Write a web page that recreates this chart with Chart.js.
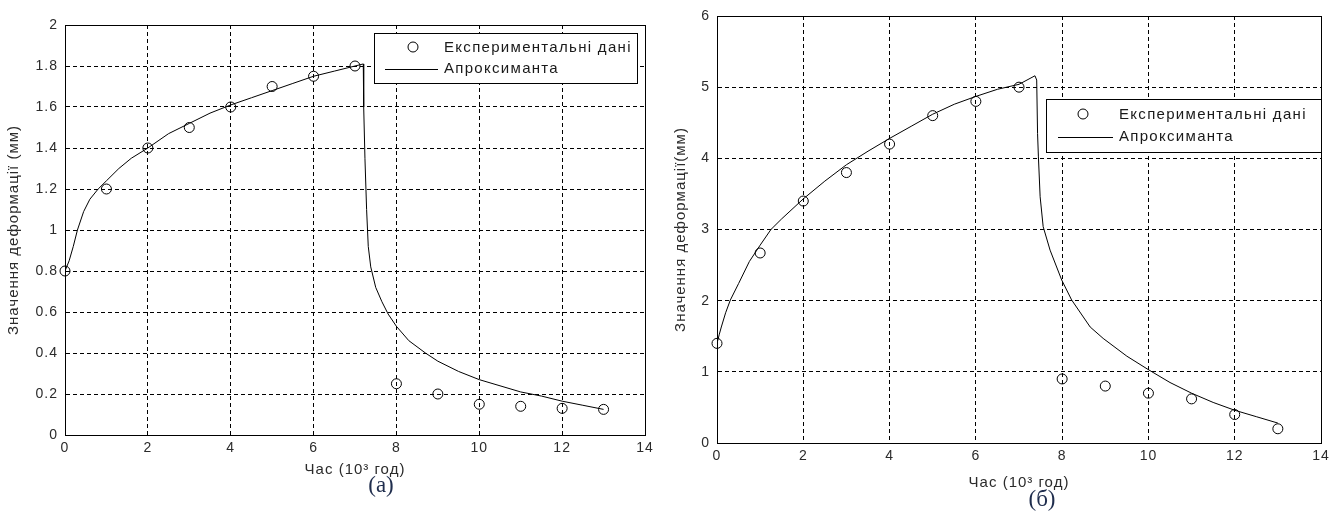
<!DOCTYPE html>
<html>
<head>
<meta charset="utf-8">
<script src="https://cdn.jsdelivr.net/npm/chart.js@4"></script>
<style>
  body { margin: 0; background: #fff; width: 1344px; height: 513px; position: relative; overflow: hidden; }
  .panel { position: absolute; top: 0; width: 672px; height: 513px; }
  .caption { position: absolute; font-family: "Liberation Serif", "Times New Roman", serif; font-size: 23px; color: #1f2d4d; transform: translate(-50%, -50%); }
</style>
</head>
<body>
<div class="panel" style="left:0"><canvas id="graphA"></canvas></div>
<div class="panel" style="left:672px"><canvas id="graphB"></canvas></div>
<div class="caption" style="left:381px; top:485px">(а)</div>
<div class="caption" style="left:1042px; top:499px">(б)</div>
<script>
// time, 10^3 h
const hours = [0, 1, 2, 3, 4, 5, 6, 7, 8, 9, 10, 11, 12, 13];
const xTicks = [0, 2, 4, 6, 8, 10, 12, 14];

// (а) measured deformation, mm
const measuredA = [0.8, 1.2, 1.4, 1.5, 1.6, 1.7, 1.75, 1.8, 0.25, 0.2, 0.15, 0.14, 0.13, 0.125];
// (а) fitted curve
const fitTimeA = [0, 0.1, 0.2, 0.3, 0.45, 0.6, 0.8, 1, 1.3, 1.6, 2, 2.5, 3, 3.5, 4, 4.5, 5, 5.5, 6, 6.5, 7, 7.2,
  7.21, 7.24, 7.28, 7.32, 7.38, 7.5, 7.65, 7.8, 8, 8.3, 8.7, 9, 9.5, 10, 10.5, 11, 11.5, 12, 12.5, 13];
const fitValueA = [0.8, 0.85, 0.92, 1.0, 1.09, 1.15, 1.2, 1.24, 1.3, 1.35, 1.4, 1.47, 1.52, 1.57, 1.61, 1.645, 1.68, 1.715, 1.75, 1.775, 1.8, 1.81,
  1.6, 1.35, 1.1, 0.92, 0.82, 0.72, 0.65, 0.59, 0.53, 0.46, 0.4, 0.36, 0.31, 0.27, 0.24, 0.21, 0.19, 0.165, 0.145, 0.125];
const yTicksA = [0, 0.2, 0.4, 0.6, 0.8, 1, 1.2, 1.4, 1.6, 1.8, 2];

// (б) measured deformation, mm
const measuredB = [1.4, 2.67, 3.4, 3.8, 4.2, 4.6, 4.8, 5.0, 0.9, 0.8, 0.7, 0.62, 0.4, 0.2];
// (б) fitted curve
const fitTimeB = [0, 0.05, 0.1, 0.2, 0.31, 0.5, 0.75, 1, 1.25, 1.5, 2, 2.5, 3, 3.5, 4, 4.5, 5, 5.5, 6, 6.5, 7, 7.37,
  7.41, 7.43, 7.45, 7.49, 7.56, 7.72, 7.99, 8.22, 8.65, 8.95, 9.5, 10, 10.5, 11, 11.5, 12, 12.5, 13];
const fitValueB = [1.4, 1.52, 1.63, 1.83, 2.01, 2.24, 2.55, 2.78, 3.0, 3.15, 3.43, 3.68, 3.91, 4.1, 4.28, 4.45, 4.62, 4.76, 4.87, 4.97, 5.04, 5.16,
  5.1, 4.35, 4.02, 3.46, 3.04, 2.71, 2.29, 2.01, 1.63, 1.47, 1.22, 1.03, 0.85, 0.7, 0.57, 0.46, 0.37, 0.28];
const yTicksB = [0, 1, 2, 3, 4, 5, 6];

const seriesNames = ['Експериментальні дані', 'Апроксиманта'];

Chart.defaults.font.family = '"Liberation Sans", Arial, sans-serif';
Chart.defaults.color = '#2b2b2b';

const toPoints = (xs, ys) => xs.map((x, i) => ({x: x, y: ys[i]}));

// spaced-out text like the original plot export
const spacing = {
  id: 'spacing',
  beforeDraw(chart) { chart.ctx.letterSpacing = '1px'; }
};

// closed box round the plot area
const frame = {
  id: 'frame',
  afterDatasetsDraw(chart) {
    const {ctx, chartArea: a} = chart;
    ctx.save();
    ctx.strokeStyle = '#000';
    ctx.lineWidth = 1;
    ctx.strokeRect(Math.round(a.left) + 0.5, Math.round(a.top) + 0.5, Math.round(a.right - a.left), Math.round(a.bottom - a.top));
    ctx.restore();
  }
};

// legend box inside the plot area
const boxLegend = {
  id: 'boxLegend',
  afterDatasetsDraw(chart, args, opts) {
    const {ctx, chartArea: a} = chart;
    const left = Math.round(a.right - opts.right - opts.width);
    const top = Math.round(a.top + opts.top);
    ctx.save();
    ctx.fillStyle = '#fff';
    ctx.fillRect(left, top, opts.width, opts.height);
    ctx.strokeStyle = '#000';
    ctx.lineWidth = 1;
    ctx.strokeRect(left + 0.5, top + 0.5, opts.width, opts.height);
    ctx.font = '15px "Liberation Sans", Arial, sans-serif';
    ctx.letterSpacing = '1.3px';
    ctx.textBaseline = 'middle';
    chart.data.datasets.forEach((ds, i) => {
      const y = top + opts.rows[i];
      ctx.beginPath();
      if (ds.showLine) {
        ctx.moveTo(left + opts.lineFrom, y + 0.5);
        ctx.lineTo(left + opts.lineTo, y + 0.5);
      } else {
        ctx.arc(left + opts.marker, y - 1, ds.pointRadius, 0, Math.PI * 2);
      }
      ctx.stroke();
      ctx.fillStyle = '#1a1a1a';
      ctx.fillText(ds.label, left + opts.textX, y);
    });
    ctx.restore();
  }
};

function makeChart(id, measured, fitTime, fitValue, yTicks, yMax, opts) {
  return new Chart(document.getElementById(id), {
    type: 'scatter',
    data: {
      datasets: [{
        label: seriesNames[0],
        data: toPoints(hours, measured),
        showLine: false,
        pointStyle: 'circle',
        pointRadius: 5,
        pointHoverRadius: 5,
        borderWidth: 1,
        borderColor: '#000',
        backgroundColor: 'rgba(0,0,0,0)',
        clip: false
      },
      {
        label: seriesNames[1],
        data: toPoints(fitTime, fitValue),
        showLine: true,
        pointRadius: 0,
        borderWidth: 1,
        borderColor: '#000',
        tension: 0
      }]
    },
    options: {
      responsive: true,
      maintainAspectRatio: false,
      animation: false,
      events: [],
      layout: {
        autoPadding: false,
        padding: {left: 0, top: opts.top, right: opts.right, bottom: 0}
      },
      scales: {
        x: {
          type: 'linear',
          min: 0,
          max: 14,
          afterBuildTicks: s => { s.ticks = xTicks.map(v => ({value: v})); },
          afterFit: s => { s.height = opts.xHeight; },
          ticks: {padding: 5, maxRotation: 0, font: {size: 14}, callback: v => String(v)},
          grid: {color: '#000', lineWidth: 1, drawTicks: false},
          border: {display: true, color: '#000', width: 1, dash: [4, 3]},
          title: {display: true, text: 'Час (10³ год)', font: {size: 15}, padding: {top: 0, bottom: opts.xTitlePad}}
        },
        y: {
          min: 0,
          max: yMax,
          afterBuildTicks: s => { s.ticks = yTicks.map(v => ({value: v})); },
          afterFit: s => { s.width = opts.yWidth; },
          ticks: {padding: 7, font: {size: 14}, callback: v => String(v)},
          grid: {color: '#000', lineWidth: 1, drawTicks: false},
          border: {display: true, color: '#000', width: 1, dash: [4, 3]},
          title: {display: true, text: opts.yTitle, font: {size: 15}, padding: {top: opts.yTitlePad, bottom: 0}}
        }
      },
      plugins: {
        legend: {display: false},
        tooltip: {enabled: false},
        boxLegend: opts.legend
      }
    },
    plugins: [spacing, frame, boxLegend]
  });
}

makeChart('graphA', measuredA, fitTimeA, fitValueA, yTicksA, 2, {
  top: 25, right: 27, xHeight: 78, yWidth: 65, xTitlePad: 34, yTitlePad: 5,
  yTitle: 'Значення деформації (мм)',
  legend: {right: 8, top: 8, width: 263, height: 50, rows: [15, 36], marker: 39, lineFrom: 11, lineTo: 64, textX: 70}
});

makeChart('graphB', measuredB, fitTimeB, fitValueB, yTicksB, 6, {
  top: 16, right: 23, xHeight: 70, yWidth: 45, xTitlePad: 21, yTitlePad: 0,
  yTitle: 'Значення деформації(мм)',
  legend: {right: 0, top: 83, width: 275, height: 53, rows: [16, 38], marker: 37, lineFrom: 12, lineTo: 67, textX: 73}
});
</script>
</body>
</html>
